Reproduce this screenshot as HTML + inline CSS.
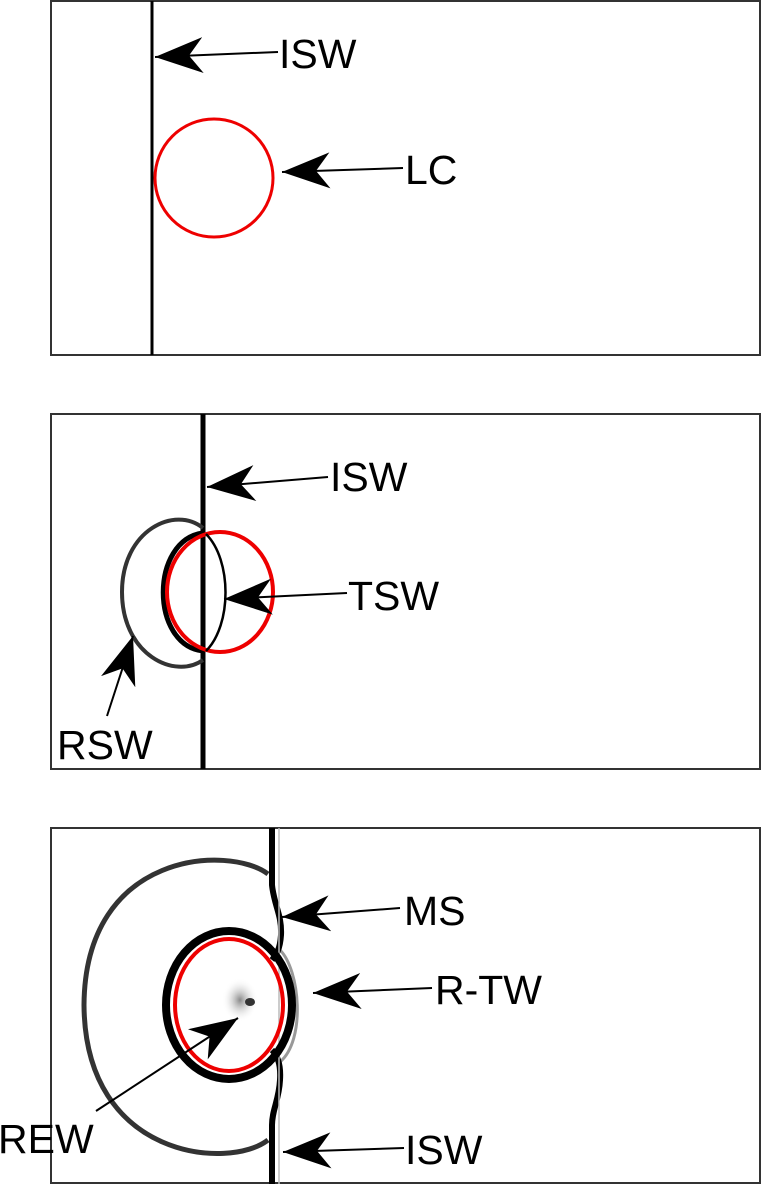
<!DOCTYPE html>
<html><head><style>body{margin:0;background:#fff}svg{display:block}text{font-family:"Liberation Sans",sans-serif;font-size:41px;fill:#000;dominant-baseline:central}</style></head><body>
<svg width="761" height="1184" viewBox="0 0 761 1184">
<defs>
<marker id="a" markerUnits="userSpaceOnUse" markerWidth="52" markerHeight="44" refX="48" refY="0" orient="auto-start-reverse" viewBox="0 -22 52 44"><path d="M48,0 L0,-18 L14,0 L0,18 Z" fill="#000"/></marker>
<radialGradient id="g"><stop offset="0" stop-color="#888"/><stop offset="1" stop-color="#fff" stop-opacity="0"/></radialGradient>
</defs>
<g fill="none" stroke="#333" stroke-width="2">
<rect x="51" y="1" width="709" height="354"/>
<rect x="51" y="414" width="709" height="355"/>
<rect x="51" y="828" width="709" height="355"/>
</g>
<!-- panel1 -->
<line x1="152" y1="1" x2="152" y2="355" stroke="#000" stroke-width="3"/>
<circle cx="214" cy="178" r="59" fill="none" stroke="#e00" stroke-width="3"/>
<line x1="155" y1="57" x2="278" y2="52" stroke="#000" stroke-width="2" marker-start="url(#a)"/>
<text x="279" y="54">ISW</text>
<line x1="282" y1="172" x2="403" y2="168" stroke="#000" stroke-width="2" marker-start="url(#a)"/>
<text x="405" y="170">LC</text>
<!-- panel2 -->
<line x1="203" y1="414" x2="203" y2="769" stroke="#000" stroke-width="5"/>
<path d="M203,528 C175,505 122,530 122,592 C122,655 175,680 203,660" fill="none" stroke="#333" stroke-width="4"/>
<path d="M203,533 C150,540 150,645 203,651" fill="none" stroke="#000" stroke-width="5"/>
<ellipse cx="220" cy="592" rx="53" ry="60" fill="none" stroke="#e00" stroke-width="4"/>
<path d="M206,534 C232,560 232,625 206,651" fill="none" stroke="#000" stroke-width="2.5"/>
<line x1="207" y1="487" x2="328" y2="477" stroke="#000" stroke-width="2" marker-start="url(#a)"/>
<text x="330" y="477">ISW</text>
<line x1="224" y1="599" x2="347" y2="593" stroke="#000" stroke-width="2" marker-start="url(#a)"/>
<text x="348" y="596">TSW</text>
<line x1="133" y1="636" x2="107" y2="716" stroke="#000" stroke-width="2" marker-start="url(#a)"/>
<text x="57" y="745">RSW</text>
<!-- panel3 -->
<path d="M268,874 C230,845 85,850 84,1005 C85,1160 230,1170 268,1140" fill="none" stroke="#333" stroke-width="5"/>
<path d="M280,950 C300,970 306,1040 280,1062" fill="none" stroke="#999" stroke-width="3"/>
<path d="M272,828 L272,885 C274,905 282,915 281,935 C280,950 276,955 272,960 M272,1050 C278,1056 281,1065 280,1080 C279,1100 272,1110 272,1125 L272,1184" fill="none" stroke="#000" stroke-width="6"/>
<path d="M279,828 L279,1184" fill="none" stroke="#bbb" stroke-width="1.5"/>
<ellipse cx="229" cy="1005" rx="63" ry="74" fill="none" stroke="#000" stroke-width="8"/>
<ellipse cx="229" cy="1005" rx="54" ry="66" fill="none" stroke="#e00" stroke-width="4"/>
<ellipse cx="240" cy="1000" rx="18" ry="22" fill="url(#g)"/>
<ellipse cx="250" cy="1002" rx="5" ry="4" fill="#333"/>
<line x1="282" y1="917" x2="400" y2="908" stroke="#000" stroke-width="2" marker-start="url(#a)"/>
<text x="404" y="911">MS</text>
<line x1="313" y1="993" x2="432" y2="988" stroke="#000" stroke-width="2" marker-start="url(#a)"/>
<text x="435" y="990">R-TW</text>
<line x1="283" y1="1152" x2="404" y2="1148" stroke="#000" stroke-width="2" marker-start="url(#a)"/>
<text x="405" y="1150">ISW</text>
<line x1="238" y1="1018" x2="96" y2="1111" stroke="#000" stroke-width="2" marker-start="url(#a)"/>
<text x="-2" y="1139">REW</text>
</svg>
</body></html>
